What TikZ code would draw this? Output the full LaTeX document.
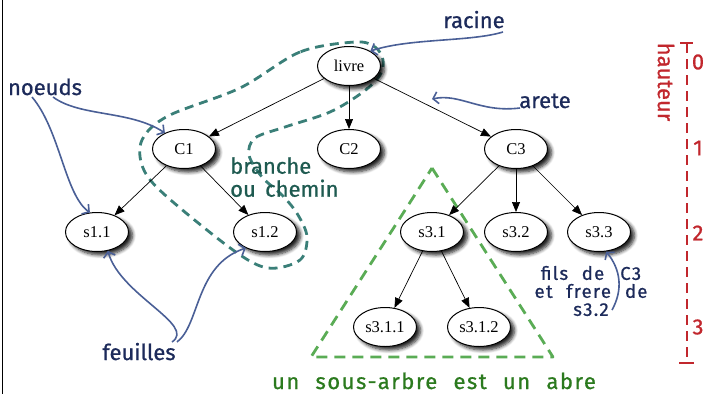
\documentclass[tikz,border=0pt]{standalone}
\usepackage{fontspec}
\setmainfont{Liberation Serif}
\newfontfamily\hand[WordSpace=1.6,FakeBold=0.8]{Fira Sans}
\newfontfamily\handwide[WordSpace=2.2,LetterSpace=7,FakeBold=0.8]{Fira Sans}
\usetikzlibrary{shapes.geometric,arrows.meta,shadows.blur}
\definecolor{arrowblue}{HTML}{4A5F96}
\definecolor{navy}{HTML}{1C2A5A}
\definecolor{tealline}{HTML}{3A7F78}
\definecolor{tealtext}{HTML}{1E5A50}
\definecolor{greenline}{HTML}{5AAC55}
\definecolor{greentext}{HTML}{2B7A1E}
\definecolor{redline}{HTML}{C1272D}
\tikzset{
  tnode/.style={ellipse, draw=black, fill=white, line width=1pt,
    minimum width=63pt, minimum height=39pt, inner sep=0pt,
    font=\fontsize{16.5}{18}\selectfont,
    blur shadow={shadow xshift=4pt, shadow yshift=-3.5pt, shadow blur radius=3.5pt, shadow blur steps=6, shadow opacity=85}},
  tedge/.style={-{Triangle[length=10pt,width=8pt]}, line width=0.7pt, black},
  handlabel/.style={inner sep=0pt, font=\hand\fontsize{22}{22}\selectfont},
  bluearrow/.style={-{Straight Barb[length=5pt,width=12pt,line width=1.6pt]}, line width=1.6pt, arrowblue},
}
\begin{document}
\begin{tikzpicture}[x=1pt,y=-1pt]
\useasboundingbox (0,0) rectangle (703,394);
\draw[black, line width=1.3pt] (2.5,0) -- (2.5,394);

% teal branch region
\draw[tealline, line width=2.8pt, dash pattern=on 9pt off 6pt]
  plot[smooth cycle, tension=0.55] coordinates {(355,42) (300,52) (240,88) (168,116) (142,140) (143,168) (165,195) (233,250) (268,268) (300,260) (307,237) (298,215) (283,196) (262,177) (249,155) (255,138) (285,127) (330,112) (363,92) (380,75) (383,60) (375,47)};

% green subtree triangle
\draw[greenline, line width=2.8pt, dash pattern=on 11pt off 7pt, line join=round]
  (432,168) coordinate (tA) -- (553,357) coordinate (tB) -- (311,357) coordinate (tC) -- cycle;

% tree nodes
\node[tnode] (livre) at (349,66) {livre};
\node[tnode] (C1) at (184,149) {C1};
\node[tnode] (C2) at (349,149) {C2};
\node[tnode] (C3) at (516,149) {C3};
\node[tnode] (s11) at (97,232) {s1.1};
\node[tnode] (s12) at (265,232) {s1.2};
\node[tnode] (s31) at (432,232) {s3.1};
\node[tnode] (s32) at (516,232) {s3.2};
\node[tnode] (s33) at (599,232) {s3.3};
\node[tnode] (s311) at (385,327) {s3.1.1};
\node[tnode] (s312) at (479,327) {s3.1.2};

\draw[tedge] (livre) -- (C1);
\draw[tedge] (livre) -- (C2);
\draw[tedge] (livre) -- (C3);
\draw[tedge] (C1) -- (s11);
\draw[tedge] (C1) -- (s12);
\draw[tedge] (C3) -- (s31);
\draw[tedge] (C3) -- (s32);
\draw[tedge] (C3) -- (s33);
\draw[tedge] (s31) -- (s311);
\draw[tedge] (s31) -- (s312);

% labels
\node[handlabel, navy, anchor=base] (racine) at (474,28) {racine};
\node[handlabel, navy, anchor=base] (noeuds) at (45,95) {noeuds};
\node[handlabel, navy, anchor=base] (arete) at (545,108) {arete};
\node[handlabel, navy, anchor=base] (feuilles) at (139,360) {feuilles};
\node[handlabel, tealtext, anchor=north west, align=left, font=\hand\fontsize{22}{23}\selectfont] (branche) at (230,157) {branche\\ou chemin};
\node[handlabel, navy, align=center, font=\handwide\fontsize{18.5}{18}\selectfont] (fils) at (591,291) {fils de\hspace{16pt}C3\\et frere\hspace{14pt}de\\s3.2};
\node[handlabel, greentext, anchor=base, font=\handwide\fontsize{22}{22}\selectfont] (sousarbre) at (434,389) {un sous-arbre est un abre};

% annotation arrows
\coordinate (racineS) at (503,32);
\coordinate (noeudsA) at (53,97);
\coordinate (noeudsB) at (32,97);
\coordinate (areteS) at (520,108);
\coordinate (areteT) at (432,99);
\coordinate (feuA) at (172,342);
\coordinate (feuB) at (177,342);
\coordinate (filsS) at (612,310);
\draw[bluearrow] (racineS) .. controls (470,42) and (410,38) .. (livre.35);
\draw[bluearrow] (areteS) .. controls (480,113) and (460,93) .. (areteT);
\draw[bluearrow] (noeudsA) .. controls (80,117) and (130,110) .. (C1.140);
\draw[bluearrow] (noeudsB) .. controls (60,130) and (65,195) .. (s11.110);
\draw[bluearrow] (feuA) .. controls (197,325) and (120,295) .. (s11.-60);
\draw[bluearrow] (feuB) .. controls (200,325) and (195,265) .. (s12.-140);
\draw[bluearrow] (filsS) .. controls (623,290) and (621,270) .. (s33.-70);

% height scale
\coordinate (hTop) at (687,43);
\coordinate (hBot) at (687,363);
\draw[redline, line width=2.4pt, dash pattern=on 10pt off 6pt] (hTop) -- (hBot);
\draw[redline, line width=2pt] ([xshift=-7pt]hTop) -- ([xshift=6pt]hTop);
\draw[redline, line width=2pt] ([xshift=-8pt]hBot) -- ([xshift=7pt]hBot);
\node[handlabel, redline] (h0) at (698,62) {0};
\node[handlabel, redline] (h1) at (698,148) {1};
\node[handlabel, redline] (h2) at (698,233) {2};
\node[handlabel, redline] (h3) at (698,327) {3};
\node[handlabel, redline, rotate=-90] (hauteur) at (666,82) {hauteur};
\end{tikzpicture}
\end{document}
